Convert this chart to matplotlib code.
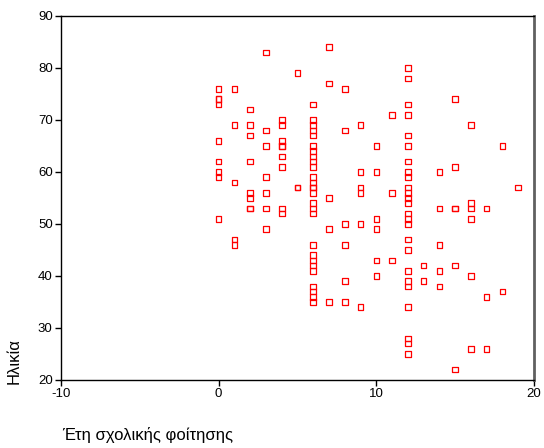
import numpy as np
import matplotlib
matplotlib.use("Agg")
import matplotlib.pyplot as plt

# years of schooling -> ages, one list per column
ages_by_years = {
    0: [76, 74, 74, 73, 66, 62, 60, 59, 51],
    1: [76, 69, 58, 47, 46],
    2: [72, 69, 67, 62, 56, 55, 53, 53],
    3: [83, 68, 65, 59, 56, 53, 49],
    4: [70, 69, 66, 65, 65, 63, 61, 53, 52],
    5: [79, 57, 57],
    6: [73, 70, 69, 68, 67, 65, 64, 63, 62, 61, 59, 58, 57, 57, 56, 54, 53, 52,
        46, 44, 43, 42, 41, 38, 37, 36, 35],
    7: [84, 77, 55, 49, 35],
    8: [76, 68, 50, 46, 39, 35],
    9: [69, 60, 57, 56, 50, 34],
    10: [65, 60, 51, 49, 43, 40],
    11: [71, 56, 43],
    12: [80, 78, 73, 71, 67, 65, 62, 60, 59, 57, 56, 55, 54, 52, 51, 50, 47, 45,
         41, 39, 38, 34, 28, 27, 25],
    13: [42, 39],
    14: [60, 53, 46, 41, 38],
    15: [74, 61, 53, 53, 42, 22],
    16: [69, 54, 53, 51, 40, 26],
    17: [53, 36, 26],
    18: [65, 37],
    19: [57],
}

x_ticks = [-10, 0, 10, 20]
y_ticks = [20, 30, 40, 50, 60, 70, 80, 90]
x_label = "Έτη σχολικής φοίτησης"
y_label = "Ηλικία"

years = np.array([k for k, v in ages_by_years.items() for _ in v])
ages = np.array([a for v in ages_by_years.values() for a in v])

plt.rcParams['font.family'] = ['Liberation Sans', 'DejaVu Sans']
plt.rcParams['axes.unicode_minus'] = False

fig = plt.figure(figsize=(5.44, 4.48), dpi=100)
ax = fig.add_axes([61/544, 1 - 380/448, 473/544, 364/448])

ax.scatter(years, ages, marker='s', s=16, facecolors='none',
           edgecolors='#ff0000', linewidths=0.9, zorder=3)

ax.set_xlim(-10, 20)
ax.set_ylim(20, 90)
ax.set_xticks(x_ticks)
ax.set_yticks(y_ticks)
ax.tick_params(direction='out', length=4, width=1, labelsize=9.5, pad=2)

for s in ['left', 'bottom', 'top']:
    ax.spines[s].set_linewidth(1.0)
    ax.spines[s].set_color('black')
ax.spines['right'].set_color('#606060')
ax.spines['right'].set_linewidth(2.0)

fig.text(62/544, 1 - 440/448, x_label, fontsize=12, ha='left', va='baseline')
fig.text(14/544, 1 - 384/448, y_label, fontsize=12, rotation=90,
         ha='center', va='bottom')

fig.savefig('out.png', dpi=100)
